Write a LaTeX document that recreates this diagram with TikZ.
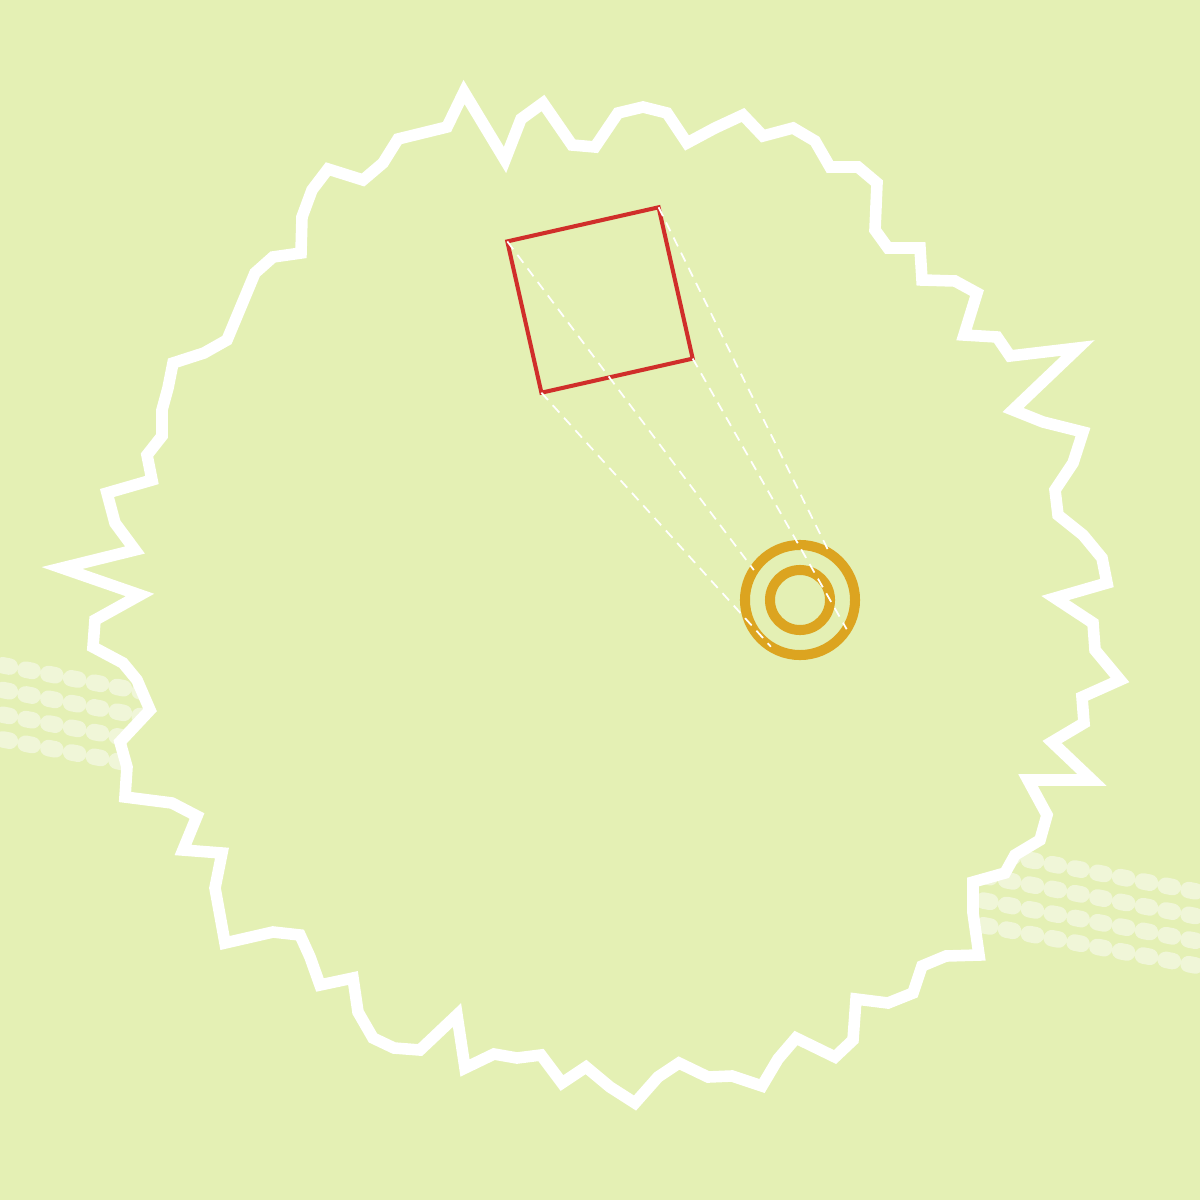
\documentclass[tikz,border=0pt]{standalone}
\definecolor{meadow}{RGB}{228,240,180}
\definecolor{meadow light}{RGB}{240,246,216}
\definecolor{brick}{RGB}{208,46,42}
\definecolor{amber}{RGB}{220,164,32}
\tikzset{
	outline/.style = {
		draw = white,
		fill = meadow,
		line width = 3.3pt,
		line join = miter,
	},
	stripe/.style = {
		draw = meadow light,
		line width = 4.7pt,
		line cap = round,
		dash pattern = on 2pt off 4.6pt,
	},
	frame/.style = {
		rectangle,
		draw = brick,
		line width = 1.15pt,
		minimum size = 1.55cm,
		inner sep = 0pt,
		outer sep = 0pt,
		rotate = 12.7,
	},
	ring/.style = {
		circle,
		draw = amber,
		line width = 2.85pt,
		inner sep = 0pt,
		outer sep = 0pt,
	},
	sight line/.style = {
		draw = white,
		line width = 0.5pt,
		dash pattern = on 2.8pt off 2pt,
	},
}

\begin{document}
\begin{tikzpicture}[x = 0.01cm, y = -0.01cm]
	\useasboundingbox (0, 0) rectangle (1200, 1200);
	\clip (0, 0) rectangle (1200, 1200);
	\fill[meadow] (0, 0) rectangle (1200, 1200);

	% the band runs under the whole blob, only its ends show
	\foreach \row in {0, ..., 3}
		\draw[stripe] (-20, 661 + 24.7*\row) -- (1220, 896 + 24.7*\row);

	\draw[outline] (464, 92) -- (505, 160) -- (521, 119) -- (543, 103) -- (572, 145) -- (595, 147)
		-- (618, 113) -- (643, 107) -- (667, 113) -- (687, 143) -- (715, 128) -- (743, 115)
		-- (763, 136) -- (793, 128) -- (815, 141) -- (830, 167) -- (858, 167) -- (877, 183)
		-- (875, 230) -- (888, 248) -- (920, 248) -- (922, 280) -- (955, 281) -- (977, 293)
		-- (964, 335) -- (997, 337) -- (1010, 356) -- (1078, 348) -- (1013, 410) -- (1043, 422)
		-- (1083, 432) -- (1073, 463) -- (1055, 490) -- (1058, 515) -- (1083, 535) -- (1102, 558)
		-- (1107, 583) -- (1055, 598) -- (1093, 623) -- (1095, 650) -- (1120, 680) -- (1082, 697)
		-- (1084, 723) -- (1052, 742) -- (1092, 780) -- (1028, 780) -- (1047, 815) -- (1040, 840)
		-- (1015, 855) -- (1005, 873) -- (973, 882) -- (973, 913) -- (979, 955) -- (946, 956)
		-- (922, 966) -- (913, 993) -- (888, 1003) -- (856, 999) -- (853, 1040) -- (835, 1057)
		-- (796, 1038) -- (778, 1059) -- (762, 1086) -- (732, 1076) -- (708, 1077) -- (679, 1063)
		-- (658, 1077) -- (635, 1103) -- (610, 1087) -- (586, 1067) -- (562, 1083) -- (541, 1055)
		-- (517, 1058) -- (494, 1054) -- (465, 1068) -- (457, 1015) -- (420, 1050) -- (394, 1048)
		-- (373, 1038) -- (358, 1012) -- (353, 978) -- (320, 985) -- (310, 957) -- (300, 935)
		-- (273, 932) -- (225, 943) -- (215, 888) -- (222, 853) -- (183, 850) -- (197, 816)
		-- (172, 803) -- (125, 797) -- (127, 767) -- (120, 742) -- (150, 710) -- (137, 680)
		-- (123, 663) -- (93, 647) -- (95, 620) -- (140, 595) -- (62, 568) -- (135, 550)
		-- (115, 523) -- (107, 493) -- (152, 480) -- (147, 455) -- (162, 436) -- (162, 410)
		-- (168, 388) -- (173, 363) -- (204, 353) -- (227, 340) -- (255, 273) -- (273, 257)
		-- (301, 253) -- (302, 217) -- (312, 190) -- (328, 169) -- (363, 180) -- (383, 163)
		-- (398, 139) -- (447, 127) -- cycle;

	\node[frame] (box) at (600, 300) {};
	\node[ring, minimum size = 1.1cm] (outer) at (800, 600) {};
	\node[ring, minimum size = 0.6cm] (inner) at (outer) {};

	\draw[sight line] (box.north west) -- (outer.147.7);
	\draw[sight line] (box.north east) -- (outer.57.7);
	\draw[sight line] (box.south east) -- (outer.-32.3);
	\draw[sight line] (box.south west) -- (outer.-122.3);
\end{tikzpicture}
\end{document}
